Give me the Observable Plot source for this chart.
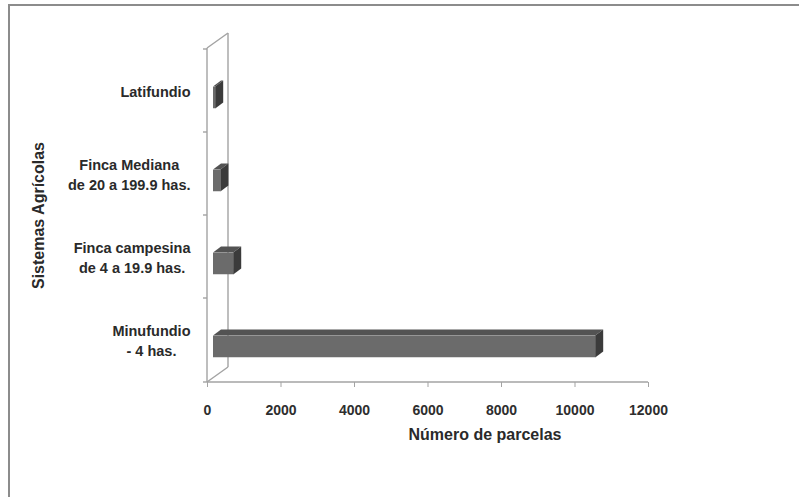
<!DOCTYPE html>
<html>
<head>
<meta charset="utf-8">
<script src="https://cdn.jsdelivr.net/npm/d3@7"></script>
<script src="https://cdn.jsdelivr.net/npm/@observablehq/plot@0.6"></script>
<style>
  html, body { margin: 0; padding: 0; background: #fff; }
  #wrap { position: relative; width: 799px; height: 497px; overflow: hidden; }
  #border { position: absolute; left: 8px; top: 4px; width: 820px; height: 520px;
            border-top: 2px solid #8c8c8c; border-left: 2px solid #8c8c8c; }
  #chart { position: absolute; left: 0; top: 0; }
  #chart svg text { font-weight: bold; }
</style>
</head>
<body>
<div id="wrap"><div id="border"></div><div id="chart"></div></div>
<script>
const categories = [
  "Latifundio",
  "Finca Mediana\nde 20 a 199.9 has.",
  "Finca campesina\nde 4 a 19.9 has.",
  "Minufundio\n- 4 has."
];
const values = [60, 200, 550, 10400];
const xTicks = [0, 2000, 4000, 6000, 8000, 10000, 12000];
const xTitle = "Número de parcelas";
const yTitle = "Sistemas Agrícolas";

const data = categories.map((c, i) => ({cat: c, value: values[i]}));

const wallColor = "#a3a3a3";
const depthX = 21, depthY = -15;   // wall depth offset
const barDX = 8, barDY = -6;       // bar depth offset
const barShift = 6;                // bar front-plane shift
const faceTop = -4, faceBottom = 18;

function walls(index, scales, values_, dims) {
  const x = scales.x, y = scales.y;
  const g = d3.create("svg:g").attr("fill", "none").attr("stroke", wallColor).attr("stroke-width", 1.4);
  const x0 = x(0), x1 = x(xTicks[xTicks.length - 1]);
  const top = dims.marginTop, bottom = dims.height - dims.marginBottom;
  g.append("line").attr("x1", x0).attr("x2", x0).attr("y1", top).attr("y2", bottom);
  g.append("line").attr("x1", x0 + depthX).attr("x2", x0 + depthX).attr("y1", top + depthY).attr("y2", bottom + depthY);
  g.append("line").attr("x1", x0).attr("x2", x0 + depthX).attr("y1", top).attr("y2", top + depthY);
  g.append("line").attr("x1", x0).attr("x2", x0 + depthX).attr("y1", bottom).attr("y2", bottom + depthY);
  g.append("line").attr("x1", x0).attr("x2", x1).attr("y1", bottom).attr("y2", bottom);
  const bounds = categories.map(c => y(c)).concat([bottom]);
  for (const b of bounds) {
    g.append("line").attr("x1", x0 - 4).attr("x2", x0).attr("y1", b).attr("y2", b);
  }
  return g.node();
}

function faces(index, scales, values_, dims) {
  const x = scales.x, y = scales.y;
  const bw = typeof y.bandwidth === "function" ? y.bandwidth() : (dims.height - dims.marginTop - dims.marginBottom) / categories.length;
  const g = d3.create("svg:g");
  data.forEach(d => {
    const xf0 = x(0) + barShift, xf1 = x(d.value) + barShift;
    const c = y(d.cat) + bw / 2;
    const ft = c + faceTop, fb = c + faceBottom;
    g.append("path")
      .attr("d", `M${xf0},${ft}L${xf1},${ft}L${xf1 + barDX},${ft + barDY}L${xf0 + barDX},${ft + barDY}Z`)
      .attr("fill", "#535353");
    g.append("path")
      .attr("d", `M${xf1},${ft}L${xf1 + barDX},${ft + barDY}L${xf1 + barDX},${fb + barDY}L${xf1},${fb}Z`)
      .attr("fill", "#3b3b3b");
  });
  return g.node();
}

const bandH = (497 - 48 - 115) / categories.length;

const plot = Plot.plot({
  width: 799,
  height: 497,
  marginLeft: 207,
  marginRight: 151,
  marginTop: 48,
  marginBottom: 115,
  style: {fontFamily: "'Liberation Sans', Arial, sans-serif", background: "transparent", overflow: "visible"},
  x: {domain: [0, 12000], axis: null},
  y: {domain: categories, padding: 0, axis: null},
  marks: [
    walls,
    Plot.axisX({ticks: xTicks, tickFormat: d => String(d), tickSize: 5, tickPadding: 18, stroke: wallColor, fill: "#2e2e2e", fontSize: 14, label: null}),
    Plot.barX(data, {x1: 0, x2: "value", y: "cat", dx: barShift,
      insetTop: bandH / 2 + faceTop, insetBottom: bandH / 2 - faceBottom, fill: "#6b6b6b"}),
    faces,
    Plot.text(data, {y: "cat", text: "cat", frameAnchor: "left", dx: -17, textAnchor: "end",
      lineHeight: 1.36, fontSize: 14.5, fill: "#2a2a2a"}),
    Plot.text([xTitle], {text: d => d, frameAnchor: "bottom", dx: 57, dy: 57, fontSize: 16, fill: "#2a2a2a"}),
    Plot.text([yTitle], {text: d => d, frameAnchor: "left", textAnchor: "middle", rotate: -90, dx: -169, fontSize: 16, fill: "#2a2a2a"})
  ]
});

document.getElementById("chart").appendChild(plot);

plot.querySelectorAll("text").forEach(t => {
  const spans = t.querySelectorAll("tspan");
  if (spans.length > 1) {
    let maxW = 0;
    spans.forEach(s => { maxW = Math.max(maxW, s.getComputedTextLength()); });
    t.setAttribute("text-anchor", "middle");
    spans.forEach(s => s.setAttribute("x", -maxW / 2));
  }
});
</script>
</body>
</html>
